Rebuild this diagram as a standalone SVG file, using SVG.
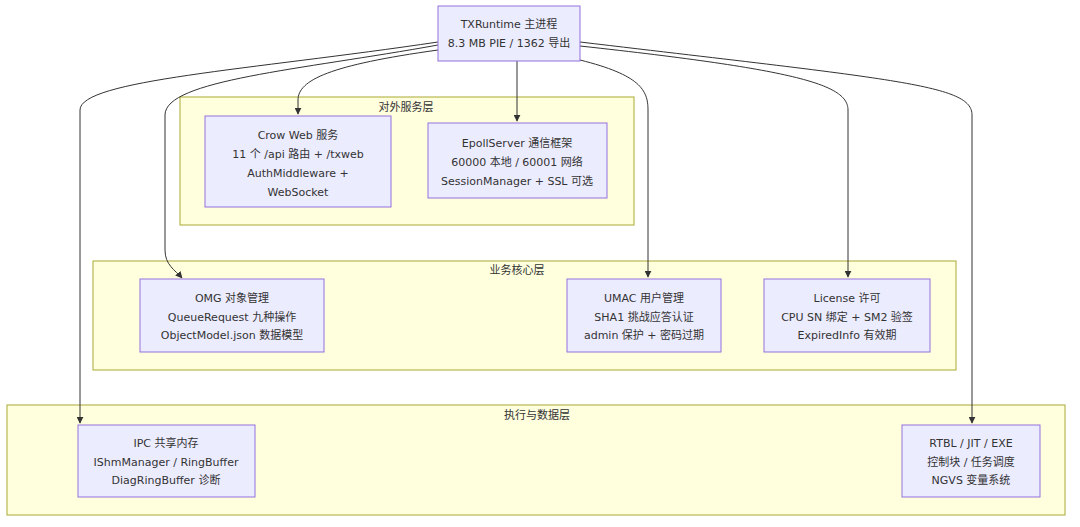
<svg xmlns="http://www.w3.org/2000/svg" width="1080" height="527" viewBox="0 0 1080 527">
<style>
text{font-family:"DejaVu Sans","Noto Sans CJK SC",sans-serif;font-size:11px;fill:#333;text-anchor:middle}
.cl{fill:#ffffde;stroke:#aaaa33;stroke-width:1}
.nd{fill:#ececff;stroke:#9370db;stroke-width:1}
.e{fill:none;stroke:#333;stroke-width:1;marker-end:url(#a)}
</style>
<defs><marker id="a" viewBox="0 0 10 10" refX="9" refY="5" markerWidth="7" markerHeight="7" orient="auto"><path d="M0,0L10,5L0,10z" fill="#333"/></marker></defs>
<rect width="1080" height="527" fill="#fff"/>
<g id="cluster-service"><rect class="cl" x="180" y="97" width="454" height="128"/><text x="406" y="111">对外服务层</text></g>
<g id="cluster-core"><rect class="cl" x="93" y="261" width="863" height="109"/><text x="517" y="274">业务核心层</text></g>
<g id="cluster-exec"><rect class="cl" x="7" y="405" width="1058" height="110"/><text x="537" y="419">执行与数据层</text></g>
<g id="edges">
<path class="e" d="M438,42 C250,70 80,80 80,110 L80,423"/>
<path class="e" d="M438,45 C300,70 165,80 165,115 L165,250 C165,265 175,270 182,278"/>
<path class="e" d="M438,50 C330,65 298,80 298,100 L298,114"/>
<path class="e" d="M517,61 L517,121"/>
<path class="e" d="M580,60 C640,75 648,90 648,110 L648,277"/>
<path class="e" d="M580,46 C800,70 848,85 848,110 L848,277"/>
<path class="e" d="M580,42 C900,80 972,85 972,115 L972,423"/>
</g>
<g id="n-main"><rect class="nd" x="438" y="6" width="142" height="55"/><text x="509" y="28">TXRuntime 主进程</text><text x="509" y="47">8.3 MB PIE / 1362 导出</text></g>
<g id="n-crow"><rect class="nd" x="205" y="116" width="186" height="91"/><text x="298" y="139">Crow Web 服务</text><text x="298" y="158">11 个 /api 路由 + /txweb</text><text x="298" y="177">AuthMiddleware +</text><text x="298" y="196">WebSocket</text></g>
<g id="n-epoll"><rect class="nd" x="428" y="123" width="179" height="75"/><text x="517" y="147">EpollServer 通信框架</text><text x="517" y="166">60000 本地 / 60001 网络</text><text x="517" y="185">SessionManager + SSL 可选</text></g>
<g id="n-omg"><rect class="nd" x="140" y="279" width="184" height="73"/><text x="232" y="302">OMG 对象管理</text><text x="232" y="321">QueueRequest 九种操作</text><text x="232" y="339">ObjectModel.json 数据模型</text></g>
<g id="n-umac"><rect class="nd" x="567" y="279" width="154" height="73"/><text x="644" y="302">UMAC 用户管理</text><text x="644" y="321">SHA1 挑战应答认证</text><text x="644" y="339">admin 保护 + 密码过期</text></g>
<g id="n-license"><rect class="nd" x="764" y="279" width="166" height="73"/><text x="847" y="302">License 许可</text><text x="847" y="321">CPU SN 绑定 + SM2 验签</text><text x="847" y="339">ExpiredInfo 有效期</text></g>
<g id="n-ipc"><rect class="nd" x="78" y="425" width="177" height="72"/><text x="166" y="447">IPC 共享内存</text><text x="166" y="466">IShmManager / RingBuffer</text><text x="166" y="484">DiagRingBuffer 诊断</text></g>
<g id="n-rtbl"><rect class="nd" x="902" y="425" width="138" height="72"/><text x="971" y="447">RTBL / JIT / EXE</text><text x="971" y="466">控制块 / 任务调度</text><text x="971" y="484">NGVS 变量系统</text></g>
</svg>
